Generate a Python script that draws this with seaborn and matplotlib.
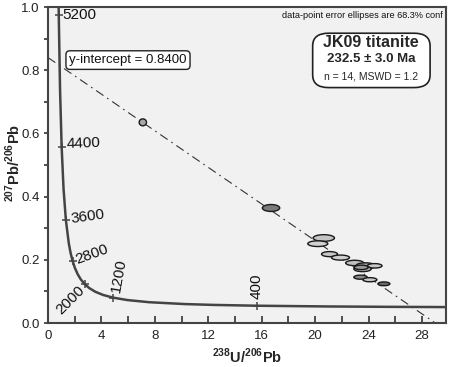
import numpy as np
import pandas as pd
import matplotlib
matplotlib.use('Agg')
import matplotlib.pyplot as plt
import seaborn as sns
from matplotlib.patches import Ellipse, FancyBboxPatch

# --- data ---
# Tera-Wasserburg concordia, age (Ma) -> 238U/206Pb, 207Pb/206Pb
conc_age = [210, 250, 300, 400, 500, 600, 800, 1000, 1200, 1400, 1600, 1800,
            2000, 2200, 2400, 2600, 2800, 3000, 3200, 3600, 4000, 4400, 4800,
            5200, 5250]
conc_x = [30.20, 25.289, 20.992, 15.621, 12.399, 10.252, 7.568, 5.959, 4.888,
          4.123, 3.550, 3.105, 2.749, 2.459, 2.217, 2.013, 1.838, 1.687, 1.556,
          1.337, 1.163, 1.022, 0.904, 0.806, 0.795]
conc_y = [0.05033, 0.05120, 0.05233, 0.05470, 0.05722, 0.05990, 0.06580,
          0.07250, 0.08012, 0.08881, 0.09872, 0.11004, 0.12299, 0.13782,
          0.15483, 0.17437, 0.19682, 0.22266, 0.25242, 0.32635, 0.42501,
          0.55714, 0.73464, 0.97377, 1.00903]

# age ticks on the concordia
tick_age = [400, 1200, 2000, 2800, 3600, 4400, 5200]
tick_x = [15.621, 4.888, 2.749, 1.838, 1.337, 1.022, 0.806]
tick_y = [0.05470, 0.08012, 0.12299, 0.19682, 0.32635, 0.55714, 0.97377]

# discordia (regression line)
disc_x = [0.0, 29.0]
disc_y = [0.84, 0.0]

# data points: centre x, centre y, width (x units), height (y units)
pt_x = [7.1, 16.7, 20.65, 20.2, 21.08, 21.9, 22.96, 23.78, 24.46, 23.55,
        23.45, 23.4, 24.1, 25.15]
pt_y = [0.635, 0.364, 0.269, 0.251, 0.218, 0.207, 0.190, 0.181, 0.181, 0.171,
        0.176, 0.145, 0.137, 0.124]
pt_w = [0.55, 1.3, 1.6, 1.5, 1.2, 1.35, 1.35, 1.45, 1.1, 1.3, 1.05, 1.0,
        1.05, 0.9]
pt_h = [0.022, 0.022, 0.021, 0.018, 0.016, 0.016, 0.017, 0.019, 0.014, 0.017,
        0.014, 0.013, 0.013, 0.012]

conc_df = pd.DataFrame({'x': conc_x, 'y': conc_y, 'age': conc_age})
disc_df = pd.DataFrame({'x': disc_x, 'y': disc_y})

# --- plot ---
sns.set_theme(style='ticks')
plt.rcParams['font.family'] = ['Liberation Sans', 'DejaVu Sans']
plt.rcParams['mathtext.fontset'] = 'custom'
plt.rcParams['mathtext.rm'] = 'Liberation Sans'
plt.rcParams['mathtext.bf'] = 'Liberation Sans:bold'

fig = plt.figure(figsize=(4.5, 3.67), dpi=100)
ax = fig.add_axes([48 / 450, 44 / 367, 398 / 450, 316 / 367])
ax.set_facecolor('#f1f1f1')

curve_col = '#444444'
sns.lineplot(data=conc_df, x='x', y='y', sort=False, color=curve_col,
             lw=1.8, ax=ax, zorder=3)
sns.lineplot(data=disc_df, x='x', y='y', color='#333333', lw=0.8,
             dashes=False, ax=ax, zorder=2)
ax.lines[-1].set_dashes((8, 4, 1.5, 4))
sns.scatterplot(x=tick_x, y=tick_y, marker='+', s=40, color=curve_col,
                linewidth=1.1, ax=ax, zorder=4)

# age labels: (dx, dy, rotation)
lab_style = {
    400: (0.0, 0.062, 90),
    1200: (0.4, 0.069, 80),
    2000: (-1.1, -0.05, 45),
    2800: (1.45, 0.02, 20),
    3600: (1.65, 0.01, 8),
    4400: (1.6, 0.01, 2),
    5200: (1.55, 0.0, 0),
}
for a, x0, y0 in zip(tick_age, tick_x, tick_y):
    dx, dy, rot = lab_style[a]
    ax.text(x0 + dx, y0 + dy, str(a), fontsize=11, rotation=rot,
            ha='center', va='center', color='#111111', zorder=5)

fills = ['#a8a8a8', '#7a7a7a', '#c4c4c4', '#d0d0d0', '#c8c8c8', '#cfcfcf',
         '#c0c0c0', '#a0a0a0', '#c8c8c8', '#b0b0b0', '#9a9a9a', '#8a8a8a',
         '#c8c8c8', '#6a6a6a']
for x0, y0, w, h, fc in zip(pt_x, pt_y, pt_w, pt_h, fills):
    ax.add_patch(Ellipse((x0, y0), w, h, facecolor=fc, edgecolor='#1a1a1a',
                         lw=1.0, zorder=6))

ax.set_xlim(0, 29.8)
ax.set_ylim(0, 1.0)
ax.set_xticks(np.arange(0, 29, 4))
ax.set_xticks(np.arange(0, 30, 2), minor=True)
ax.set_yticks(np.arange(0, 1.01, 0.2))
ax.set_yticks(np.arange(0, 1.01, 0.1), minor=True)
ax.set_yticklabels(['0.0', '0.2', '0.4', '0.6', '0.8', '1.0'])
ax.tick_params(axis='x', which='both', direction='in', length=5, width=1.2,
               color='#333333', labelsize=9.5, labelcolor='#222222', pad=5)
ax.tick_params(axis='y', which='both', direction='out', length=3, width=1.2,
               color='#333333', labelsize=9.5, labelcolor='#222222', pad=3)
for s in ax.spines.values():
    s.set_color('#444444')
    s.set_linewidth(1.5)

ax.set_xlabel('')
ax.set_ylabel('')
fig.text(247 / 450, 1 - 356 / 367,
         r'$^{\mathbf{238}}\mathbf{U/}^{\mathbf{206}}\mathbf{Pb}$',
         fontsize=10.5, ha='center', va='center')
fig.text(13 / 450, 1 - 163 / 367,
         r'$^{\mathbf{207}}\mathbf{Pb/}^{\mathbf{206}}\mathbf{Pb}$',
         fontsize=10.5, ha='center', va='center', rotation=90)

ax.text(0.992, 0.972, 'data-point error ellipses are 68.3% conf',
        transform=ax.transAxes, ha='right', va='center', fontsize=6.6,
        color='#111111')

ax.text(0.201, 0.832, 'y-intercept = 0.8400', transform=ax.transAxes,
        ha='center', va='center', fontsize=9.5, color='#111111', zorder=7,
        bbox=dict(boxstyle='round,pad=0.25,rounding_size=0.3',
                  facecolor='white', edgecolor='#222222', lw=1.0))

box = FancyBboxPatch((0.665, 0.745), 0.295, 0.172, transform=ax.transAxes,
                     boxstyle='round,pad=0.0,rounding_size=0.04',
                     facecolor='white', edgecolor='#222222', lw=1.2, zorder=7)
ax.add_patch(box)
ax.text(0.812, 0.889, 'JK09 titanite', transform=ax.transAxes, ha='center',
        va='center', fontsize=11.5, fontweight='bold', zorder=8)
ax.text(0.812, 0.835, '232.5 ± 3.0 Ma', transform=ax.transAxes, ha='center',
        va='center', fontsize=9.5, fontweight='bold', zorder=8)
ax.text(0.812, 0.779, 'n = 14, MSWD = 1.2', transform=ax.transAxes,
        ha='center', va='center', fontsize=7.5, zorder=8)

fig.savefig('out.png', dpi=100, facecolor='white')
